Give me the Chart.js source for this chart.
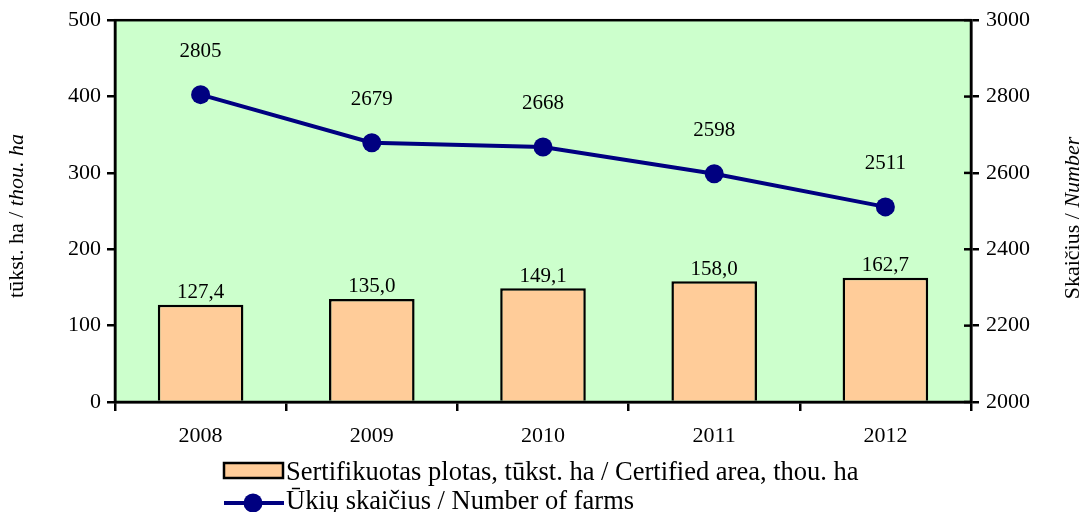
<!DOCTYPE html>
<html>
<head>
<meta charset="utf-8">
<script src="https://cdn.jsdelivr.net/npm/chart.js@4"></script>
<style>
  html, body { margin: 0; padding: 0; background: #fff; }
  #wrap { width: 1088px; height: 512px; }
</style>
</head>
<body>
<div id="wrap"><canvas id="c" width="1088" height="512"></canvas></div>
<script>
// data
const years = ['2008', '2009', '2010', '2011', '2012'];
const areaValues = [127.4, 135.0, 149.1, 158.0, 162.7];
const farmValues = [2805, 2679, 2668, 2598, 2511];
const areaTicks = [0, 100, 200, 300, 400, 500];
const farmTicks = [2000, 2200, 2400, 2600, 2800, 3000];

const areaLabel = 'Sertifikuotas plotas, tūkst. ha / Certified area, thou. ha';
const farmLabel = 'Ūkių skaičius / Number of farms';

const FONT = '"Liberation Serif", "Times New Roman", serif';
const NAVY = '#000080';
const PEACH = '#ffcc99';

// draws plot background, labels, axis titles, legend
const decor = {
    id: 'decor',
    beforeDraw(chart) {
        const a = chart.chartArea;
        const ctx = chart.ctx;
        ctx.save();
        ctx.fillStyle = '#ccffcc';
        ctx.fillRect(a.left, a.top, a.right - a.left, a.bottom - a.top);
        ctx.restore();
    },
    afterDraw(chart) {
        const ctx = chart.ctx;
        const a = chart.chartArea;
        ctx.save();

        // plot frame
        ctx.strokeStyle = '#000';
        ctx.lineWidth = 2.5;
        ctx.strokeRect(a.left, a.top, a.right - a.left, a.bottom - a.top);

        // inner ticks on the right axis
        const yr = chart.scales.yR;
        farmTicks.forEach(v => {
            const y = yr.getPixelForValue(v);
            ctx.beginPath();
            ctx.moveTo(a.right - 7, y);
            ctx.lineTo(a.right, y);
            ctx.stroke();
        });

        // value labels
        ctx.fillStyle = '#000';
        ctx.font = '21px ' + FONT;
        ctx.textAlign = 'center';
        ctx.textBaseline = 'middle';
        chart.getDatasetMeta(0).data.forEach((bar, i) => {
            ctx.fillText(areaValues[i].toFixed(1).replace('.', ','), bar.x, bar.y - 12);
        });
        chart.getDatasetMeta(1).data.forEach((pt, i) => {
            ctx.fillText(String(farmValues[i]), pt.x, pt.y - 43);
        });

        // axis titles (mixed roman / italic)
        function vtitle(parts, cx, cy) {
            ctx.save();
            ctx.translate(cx, cy);
            ctx.rotate(-Math.PI / 2);
            ctx.textBaseline = 'middle';
            ctx.textAlign = 'left';
            let total = 0;
            parts.forEach(p => { ctx.font = p[1] + '22px ' + FONT; total += ctx.measureText(p[0]).width; });
            let x = -total / 2;
            parts.forEach(p => {
                ctx.font = p[1] + '22px ' + FONT;
                ctx.fillText(p[0], x, 0);
                x += ctx.measureText(p[0]).width;
            });
            ctx.restore();
        }
        vtitle([['tūkst. ha / ', ''], ['thou. ha', 'italic ']], 17, 216);
        vtitle([['Skaičius / ', ''], ['Number', 'italic ']], 1073, 218);

        // legend
        ctx.font = '26.5px ' + FONT;
        ctx.textAlign = 'left';
        ctx.textBaseline = 'middle';
        ctx.fillStyle = PEACH;
        ctx.fillRect(224, 463, 59, 15);
        ctx.strokeStyle = '#000';
        ctx.lineWidth = 2.5;
        ctx.strokeRect(224, 463, 59, 15);
        ctx.fillStyle = '#000';
        ctx.fillText(areaLabel, 286, 473);

        ctx.strokeStyle = NAVY;
        ctx.lineWidth = 4;
        ctx.beginPath();
        ctx.moveTo(224, 503);
        ctx.lineTo(284, 503);
        ctx.stroke();
        ctx.fillStyle = NAVY;
        ctx.beginPath();
        ctx.arc(253, 503, 9.5, 0, Math.PI * 2);
        ctx.fill();
        ctx.fillStyle = '#000';
        ctx.fillText(farmLabel, 286, 502);

        ctx.restore();
    }
};

const tickFont = { family: FONT, size: 22 };
const plain = v => String(v);

new Chart(document.getElementById('c'), {
    data: {
        labels: years,
        datasets: [{
            type: 'bar',
            label: areaLabel,
            data: areaValues,
            yAxisID: 'yL',
            backgroundColor: PEACH,
            borderColor: '#000',
            borderWidth: 2.5,
            barPercentage: 0.5,
            categoryPercentage: 1.0,
            order: 2
        }, {
            type: 'line',
            label: farmLabel,
            data: farmValues,
            yAxisID: 'yR',
            borderColor: NAVY,
            backgroundColor: NAVY,
            borderWidth: 4,
            pointRadius: 9.5,
            pointBackgroundColor: NAVY,
            pointBorderWidth: 0,
            tension: 0,
            order: 1
        }]
    },
    options: {
        responsive: false,
        animation: false,
        layout: { padding: { top: 20, bottom: 0, left: 0, right: 0 } },
        plugins: { legend: { display: false }, tooltip: { enabled: false } },
        scales: {
            x: {
                offset: true,
                grid: { offset: true, drawOnChartArea: false, color: '#000', lineWidth: 2.5, tickLength: 9 },
                border: { color: '#000', width: 2.5 },
                ticks: { color: '#000', font: tickFont, padding: 12 },
                afterFit(s) { s.height = 110; }
            },
            yL: {
                position: 'left',
                min: 0, max: 500,
                afterBuildTicks(s) { s.ticks = areaTicks.map(v => ({ value: v })); },
                grid: { drawOnChartArea: false, color: '#000', lineWidth: 2.5, tickLength: 8 },
                border: { color: '#000', width: 2.5 },
                ticks: { color: '#000', font: tickFont, padding: 6, callback: plain },
                afterFit(s) { s.width = 115; }
            },
            yR: {
                position: 'right',
                min: 2000, max: 3000,
                afterBuildTicks(s) { s.ticks = farmTicks.map(v => ({ value: v })); },
                grid: { drawOnChartArea: false, color: '#000', lineWidth: 2.5, tickLength: 8 },
                border: { color: '#000', width: 2.5 },
                ticks: { color: '#000', font: tickFont, padding: 7, callback: plain },
                afterFit(s) { s.width = 117; }
            }
        }
    },
    plugins: [decor]
});
</script>
</body>
</html>
